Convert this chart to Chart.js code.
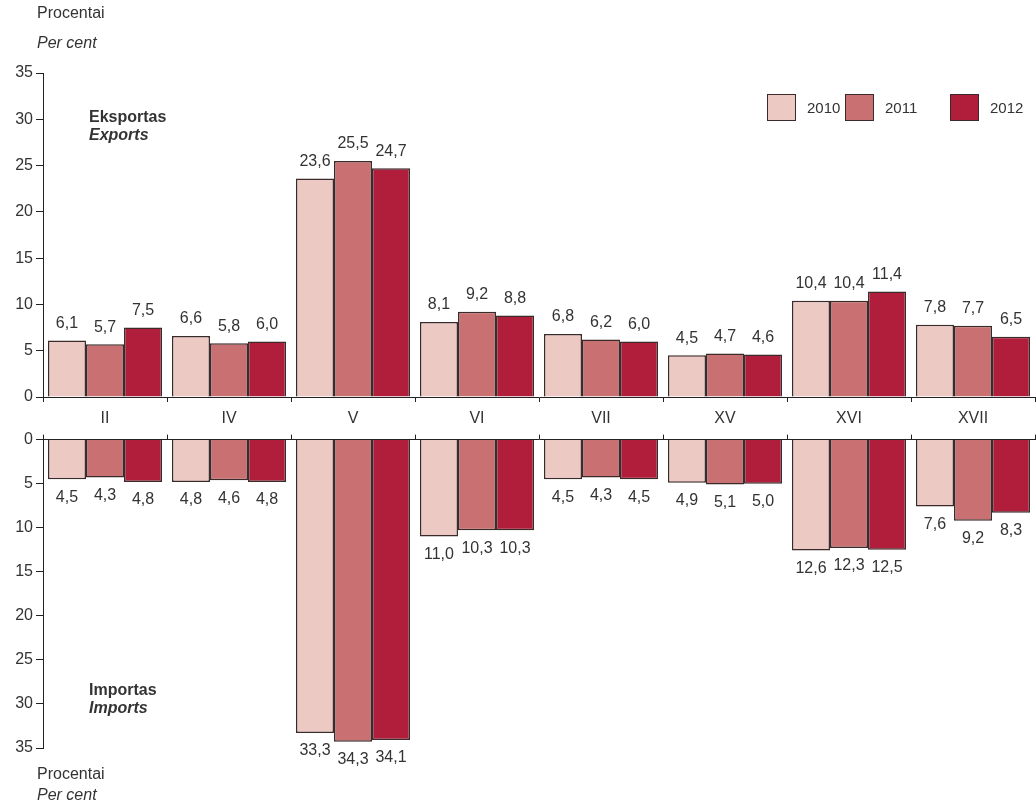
<!DOCTYPE html>
<html>
<head>
<meta charset="utf-8">
<script src="https://cdn.jsdelivr.net/npm/chart.js@4"></script>
<style>
  html, body { margin: 0; padding: 0; background: #fff; }
  body { width: 1036px; height: 806px; position: relative; overflow: hidden;
         font-family: "Liberation Sans", Arial, sans-serif; color: #333; }
  .txt { position: absolute; font-size: 16px; line-height: 18px; white-space: nowrap; }
  .it { font-style: italic; }
  .b { font-weight: bold; }
  #expWrap { position: absolute; left: 0; top: 0; width: 1036px; height: 430px; }
  #impWrap { position: absolute; left: 0; top: 427px; width: 1036px; height: 379px; }
  .legend { position: absolute; top: 94px; display: flex; align-items: center; font-size: 15px; }
  .legend span.sw { display: inline-block; width: 27px; height: 25px; border: 1px solid #3b2a2a; margin-right: 11px; }
</style>
</head>
<body>
<div id="expWrap"><canvas id="expChart"></canvas></div>
<div id="impWrap"><canvas id="impChart"></canvas></div>

<div class="txt" style="left:37px;top:4px;">Procentai</div>
<div class="txt it" style="left:37px;top:34px;">Per cent</div>
<div class="txt b" style="left:89px;top:108px;">Eksportas</div>
<div class="txt b it" style="left:89px;top:126px;">Exports</div>
<div class="txt b" style="left:89px;top:681px;">Importas</div>
<div class="txt b it" style="left:89px;top:699px;">Imports</div>
<div class="txt" style="left:37px;top:765px;">Procentai</div>
<div class="txt it" style="left:37px;top:786px;">Per cent</div>

<div id="legend"></div>

<script>
  const CATEGORIES = ['II', 'IV', 'V', 'VI', 'VII', 'XV', 'XVI', 'XVII'];
  const YEARS = ['2010', '2011', '2012'];
  const COLORS = ['#EDC9C3', '#C97172', '#B01E3B'];

  const EXPORTS_2010 = [6.1, 6.6, 23.6, 8.1, 6.8, 4.5, 10.4, 7.8];
  const EXPORTS_2011 = [5.7, 5.8, 25.5, 9.2, 6.2, 4.7, 10.4, 7.7];
  const EXPORTS_2012 = [7.5, 6.0, 24.7, 8.8, 6.0, 4.6, 11.4, 6.5];

  const IMPORTS_2010 = [4.5, 4.8, 33.3, 11.0, 4.5, 4.9, 12.6, 7.6];
  const IMPORTS_2011 = [4.3, 4.6, 34.3, 10.3, 4.3, 5.1, 12.3, 9.2];
  const IMPORTS_2012 = [4.8, 4.8, 34.1, 10.3, 4.5, 5.0, 12.5, 8.3];

  const Y_TICKS = [0, 5, 10, 15, 20, 25, 30, 35];

  const FONT = { family: '"Liberation Sans", Arial, sans-serif', size: 16 };
  const INK = '#333';
  const AXIS = '#222';

  // legend
  const legendEl = document.getElementById('legend');
  const legendX = [767, 845, 950];
  YEARS.forEach((y, i) => {
    const d = document.createElement('div');
    d.className = 'legend';
    d.style.left = legendX[i] + 'px';
    d.innerHTML = `<span class="sw" style="background:${COLORS[i]}"></span>${y}`;
    legendEl.appendChild(d);
  });

  const valueLabels = {
    id: 'valueLabels',
    afterDatasetsDraw(chart, args, opts) {
      const ctx = chart.ctx;
      ctx.save();
      ctx.font = `${FONT.size}px ${FONT.family}`;
      ctx.fillStyle = INK;
      ctx.textAlign = 'center';
      chart.data.datasets.forEach((ds, di) => {
        chart.getDatasetMeta(di).data.forEach((bar, i) => {
          const txt = ds.data[i].toFixed(1).replace('.', ',');
          if (opts.below) {
            ctx.textBaseline = 'top';
            ctx.fillText(txt, bar.x, bar.y + 10);
          } else {
            ctx.textBaseline = 'bottom';
            ctx.fillText(txt, bar.x, bar.y - 9);
          }
        });
      });
      ctx.restore();
    }
  };

  function makeDatasets(series) {
    return series.map((data, i) => ({
      label: YEARS[i],
      data,
      backgroundColor: COLORS[i],
      borderColor: '#3b2a2a',
      borderWidth: 1.5,
      categoryPercentage: 0.92,
      barPercentage: 1.0
    }));
  }

  function yScale(reverse) {
    return {
      min: 0, max: 35, reverse,
      afterBuildTicks: s => { s.ticks = Y_TICKS.map(v => ({ value: v })); },
      afterFit: s => { s.width = 43; },
      border: { display: true, color: AXIS, width: 1 },
      grid: { drawOnChartArea: false, drawTicks: true, tickLength: 7, color: AXIS },
      ticks: { font: FONT, color: INK, padding: 3 }
    };
  }

  new Chart(document.getElementById('expChart'), {
    type: 'bar',
    data: { labels: CATEGORIES, datasets: makeDatasets([EXPORTS_2010, EXPORTS_2011, EXPORTS_2012]) },
    options: {
      responsive: true, maintainAspectRatio: false, animation: false,
      layout: { padding: { top: 73, right: 1, left: 0, bottom: 0 } },
      plugins: { legend: { display: false }, tooltip: { enabled: false }, valueLabels: { below: false } },
      scales: {
        x: {
          afterFit: s => { s.height = 33; },
          border: { display: true, color: AXIS, width: 1 },
          grid: { offset: true, drawOnChartArea: false, drawTicks: true, tickLength: 5, color: AXIS },
          ticks: { font: FONT, color: INK, padding: 7 }
        },
        y: yScale(false)
      }
    },
    plugins: [valueLabels]
  });

  new Chart(document.getElementById('impChart'), {
    type: 'bar',
    data: { labels: CATEGORIES, datasets: makeDatasets([IMPORTS_2010, IMPORTS_2011, IMPORTS_2012]) },
    options: {
      responsive: true, maintainAspectRatio: false, animation: false,
      layout: { padding: { top: 0, right: 1, left: 0, bottom: 58 } },
      plugins: { legend: { display: false }, tooltip: { enabled: false }, valueLabels: { below: true } },
      scales: {
        x: {
          position: 'top',
          afterFit: s => { s.height = 9; },
          border: { display: true, color: AXIS, width: 1 },
          grid: { offset: true, drawOnChartArea: false, drawTicks: true, tickLength: 5, color: AXIS },
          ticks: { display: false }
        },
        y: yScale(true)
      }
    },
    plugins: [valueLabels]
  });
</script>
</body>
</html>
